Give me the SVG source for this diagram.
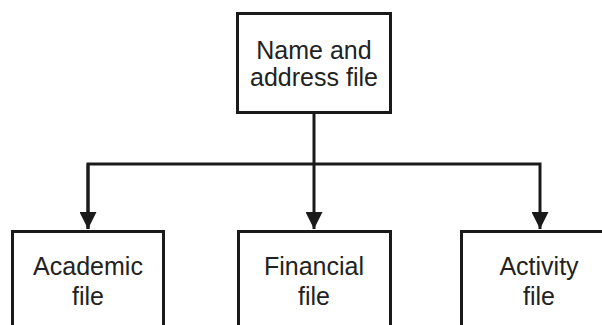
<svg xmlns="http://www.w3.org/2000/svg" width="602" height="325" viewBox="0 0 602 325">
<style>
.box{fill:#fff;stroke:#1a1a1a;stroke-width:3}
.lbl{font-family:"Liberation Sans",Arial,sans-serif;font-size:25px;fill:#222;text-anchor:middle}
.conn{fill:none;stroke:#1a1a1a;stroke-width:3}
</style>
<defs>
<marker id="ah" markerUnits="userSpaceOnUse" markerWidth="18" markerHeight="17" refX="17" refY="8.5" orient="auto">
<path d="M0,0 L17,8.5 L0,17 Z" fill="#1a1a1a"/>
</marker>
</defs>
<rect width="602" height="325" fill="#fff"/>
<g id="connectors">
<line class="conn" x1="314" y1="113" x2="314" y2="229" marker-end="url(#ah)"/>
<path class="conn" d="M88,229 V164 H540 V229" marker-end="url(#ah)"/>
<path class="conn" d="M88,164 V229" marker-end="url(#ah)"/>
</g>
<g id="name-address">
<rect class="box" x="237.5" y="13.5" width="153" height="99"/>
<text class="lbl" x="314" y="59">Name and</text>
<text class="lbl" x="314" y="86">address file</text>
</g>
<g id="academic">
<rect class="box" x="12.5" y="231.5" width="151" height="110"/>
<text class="lbl" x="88" y="275">Academic</text>
<text class="lbl" x="88" y="305">file</text>
</g>
<g id="financial">
<rect class="box" x="238.5" y="231.5" width="152" height="110"/>
<text class="lbl" x="314" y="275">Financial</text>
<text class="lbl" x="314" y="305">file</text>
</g>
<g id="activity">
<rect class="box" x="461.5" y="231.5" width="160" height="110"/>
<text class="lbl" x="539" y="275">Activity</text>
<text class="lbl" x="539" y="305">file</text>
</g>
</svg>
